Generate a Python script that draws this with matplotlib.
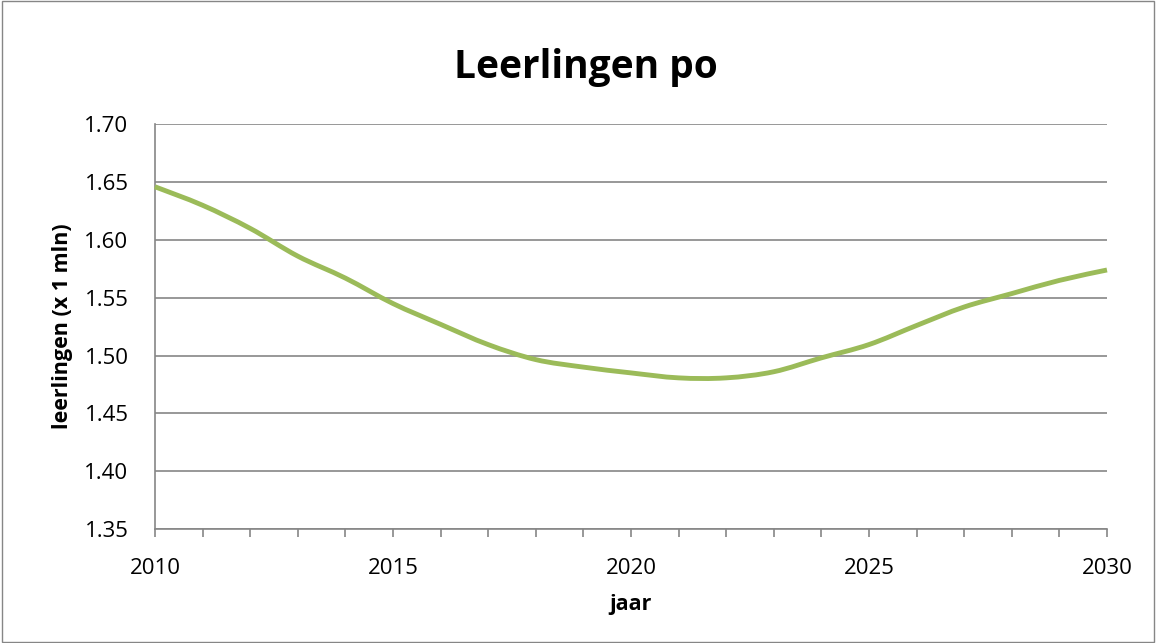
import matplotlib
matplotlib.use("Agg")
import matplotlib.pyplot as plt
from matplotlib.patches import Rectangle, PathPatch
from matplotlib.path import Path

# leerlingen primair onderwijs (x 1 mln)
jaren = list(range(2010, 2031))
leerlingen = [1.646, 1.630, 1.610, 1.586, 1.567, 1.545, 1.527, 1.5095,
              1.4965, 1.490, 1.485, 1.4807, 1.4807, 1.486, 1.498, 1.5095,
              1.526, 1.542, 1.5536, 1.565, 1.574]
yticks = [1.35, 1.40, 1.45, 1.50, 1.55, 1.60, 1.65, 1.70]
xlabels = [2010, 2015, 2020, 2025, 2030]

plt.rcParams['font.family'] = ['Open Sans', 'DejaVu Sans']

fig = plt.figure(figsize=(11.56, 6.43), dpi=100)
ax = fig.add_axes([0.134, 0.1773, 0.8236, 0.6294])

# vloeiende lijn zoals in Excel (bezier door de datapunten)
pts = list(zip(jaren, leerlingen))
verts = [pts[0]]
codes = [Path.MOVETO]
n = len(pts)
for i in range(n - 1):
    p0 = pts[max(i - 1, 0)]
    p1 = pts[i]
    p2 = pts[i + 1]
    p3 = pts[min(i + 2, n - 1)]
    c1 = (p1[0] + (p2[0] - p0[0]) / 6, p1[1] + (p2[1] - p0[1]) / 6)
    c2 = (p2[0] - (p3[0] - p1[0]) / 6, p2[1] - (p3[1] - p1[1]) / 6)
    verts += [c1, c2, p2]
    codes += [Path.CURVE4] * 3
ax.add_patch(PathPatch(Path(verts, codes), facecolor='none', edgecolor='#9BBB59',
                       linewidth=3.5, capstyle='butt', zorder=3, clip_on=False))

ax.set_xlim(2010, 2030)
ax.set_ylim(1.35, 1.70)
ax.set_yticks(yticks)
ax.set_yticklabels(['%.2f' % v for v in yticks], fontsize=16)
ax.set_xticks(jaren, minor=True)
ax.set_xticks(xlabels)
ax.set_xticklabels([str(j) for j in xlabels], fontsize=16)

ax.grid(axis='y', color='#868686', linewidth=1.2)
ax.set_axisbelow(True)
for s in ['top', 'right']:
    ax.spines[s].set_visible(False)
for s in ['left', 'bottom']:
    ax.spines[s].set_color('#868686')
    ax.spines[s].set_linewidth(1.2)
ax.tick_params(axis='y', length=0, pad=19)
ax.tick_params(axis='x', which='both', direction='out', length=6,
               color='#868686', width=1.2, pad=15)

fig.text(0.507, 1 - 78 / 643, 'Leerlingen po', fontsize=28, fontweight='bold',
         ha='center', va='baseline')
ax.set_xlabel('jaar', fontsize=15.5, fontweight='bold', labelpad=11)
ax.set_ylabel('leerlingen (x 1 mln)', fontsize=15.5, fontweight='bold', labelpad=8)

# rand om de hele figuur
fig.patches.append(Rectangle((0.002, 0.002), 0.996, 0.996, transform=fig.transFigure,
                             fill=False, edgecolor='#868686', linewidth=1))

fig.savefig('out.png', dpi=100)
